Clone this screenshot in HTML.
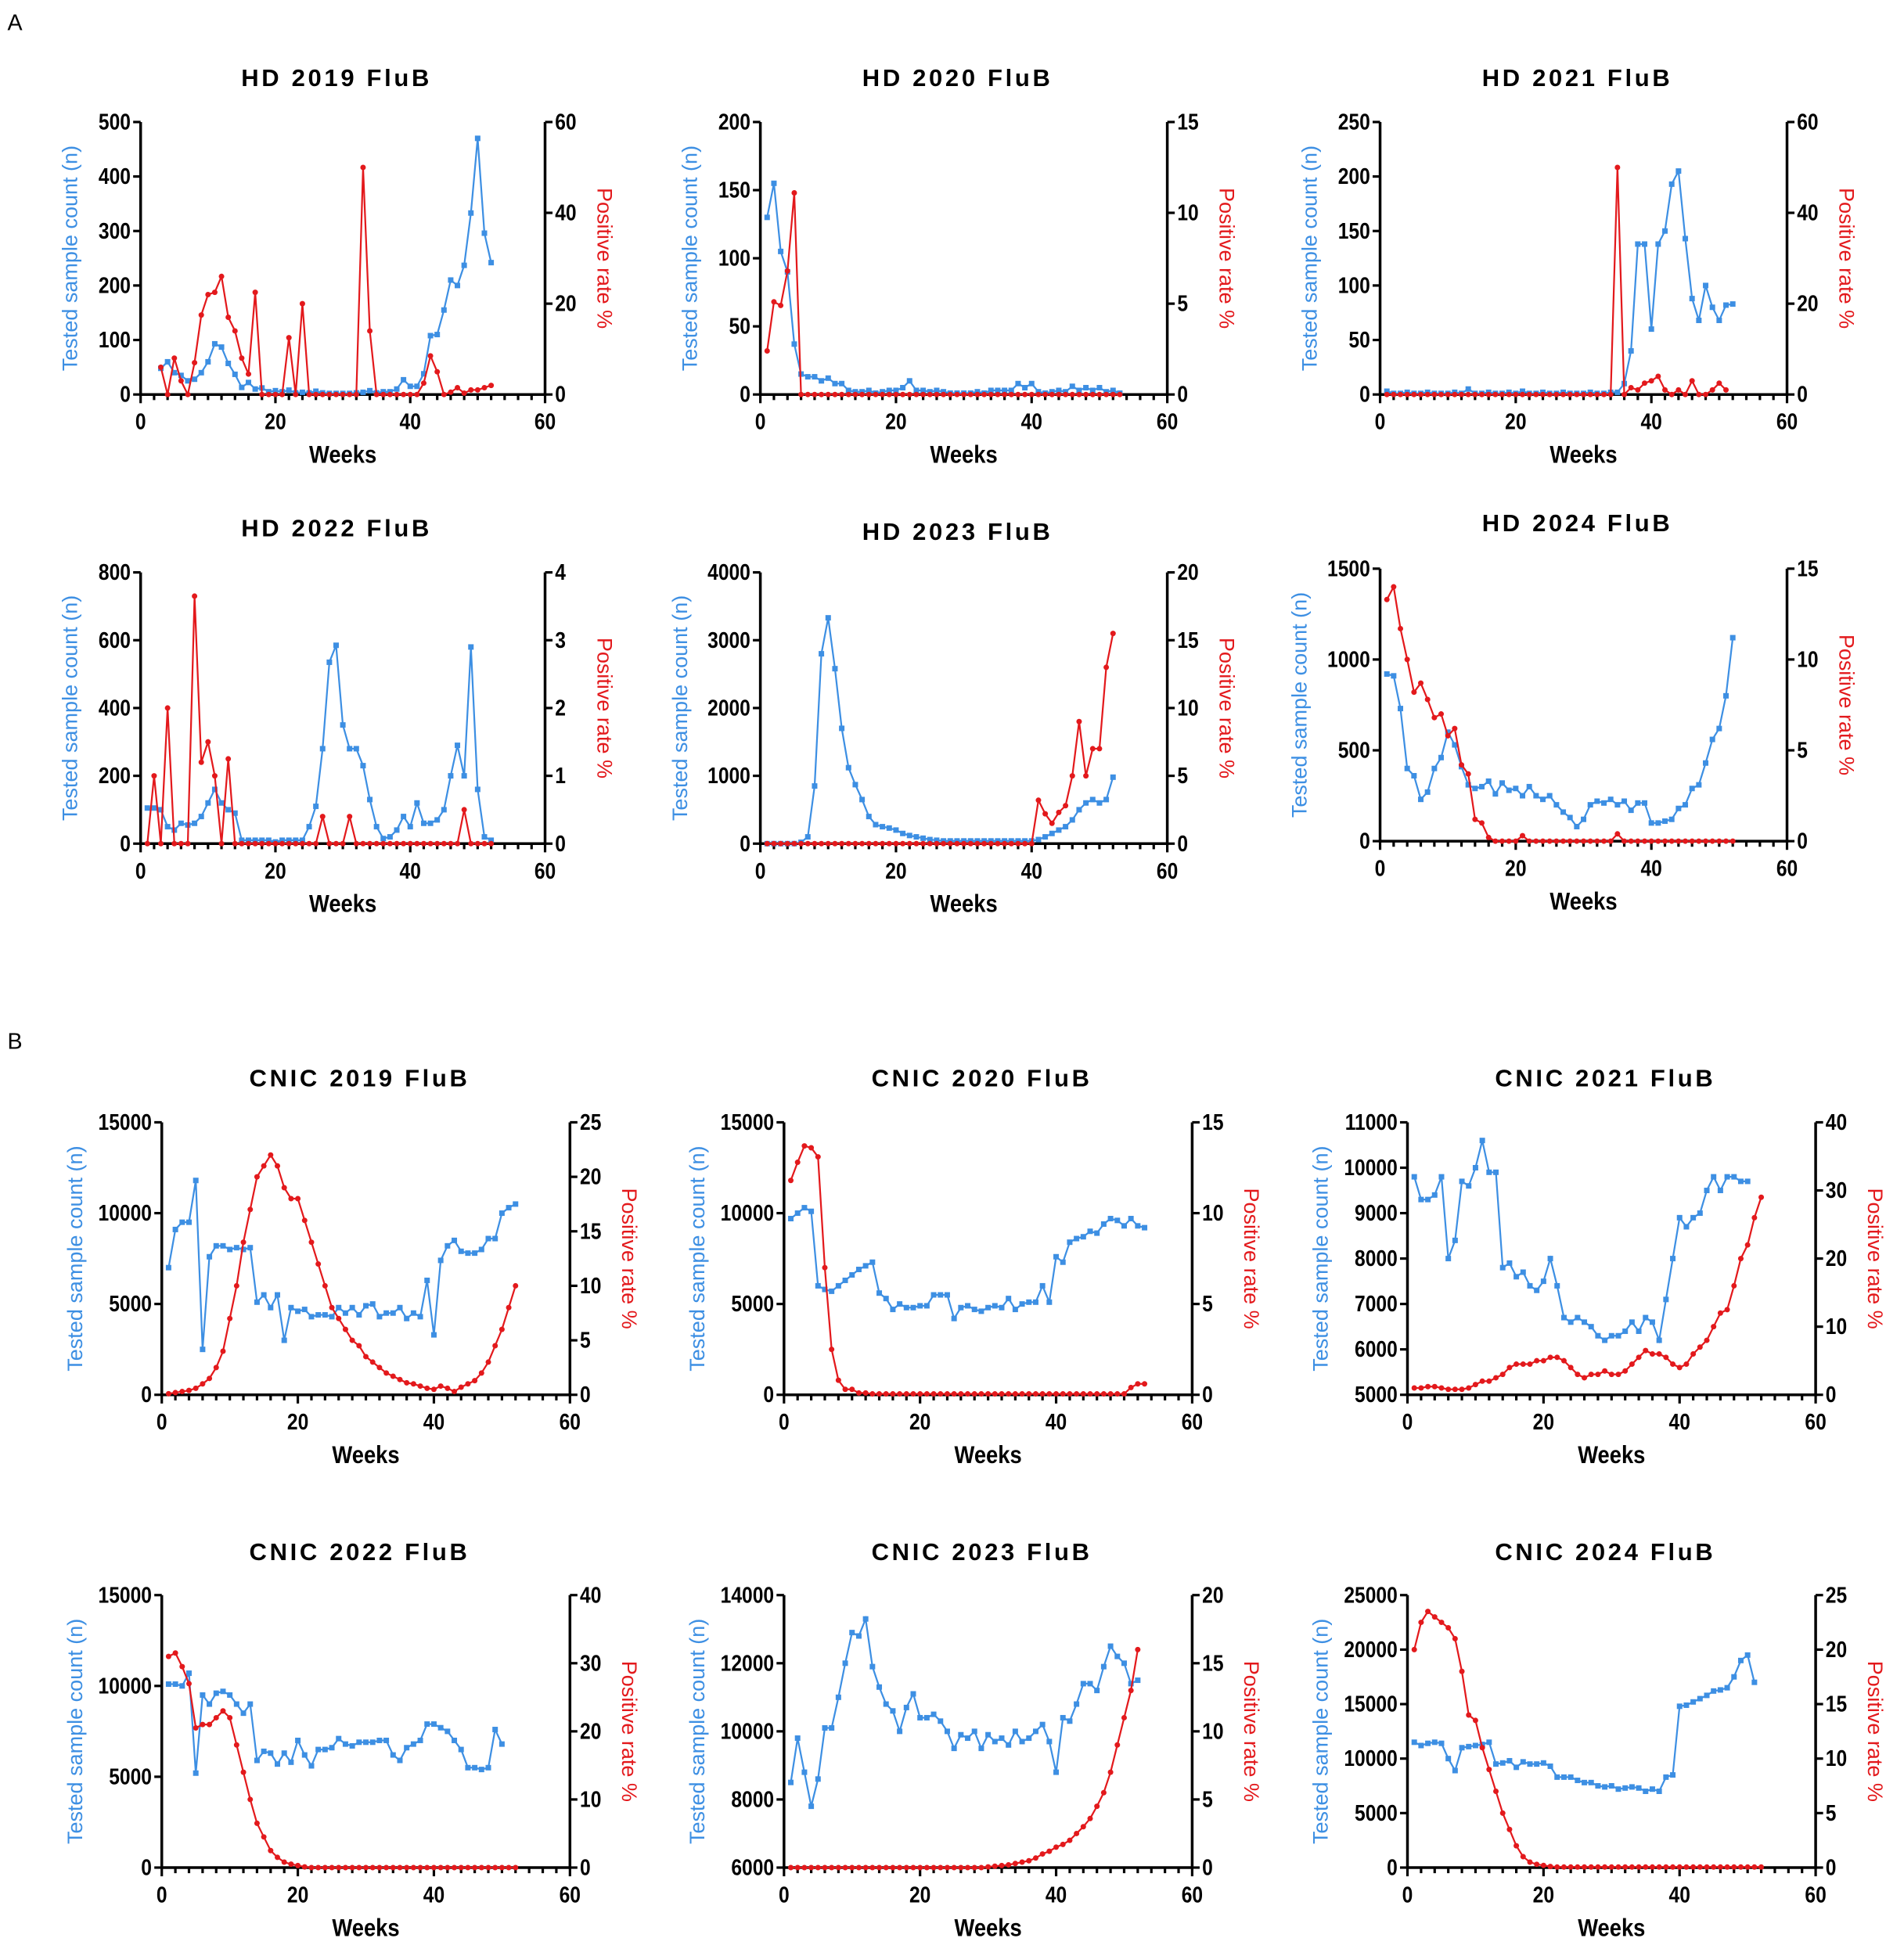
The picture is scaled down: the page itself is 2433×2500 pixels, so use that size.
<!DOCTYPE html>
<html><head><meta charset="utf-8"><style>
html,body{margin:0;padding:0;background:#fff;}
svg{display:block;}
</style></head><body>
<svg id="s" width="2433" height="2500" viewBox="0 0 1530 1572" xmlns="http://www.w3.org/2000/svg">
<rect width="1530" height="1572" fill="#fff"/>
<text x="6" y="24" font-family="Liberation Sans, sans-serif" font-size="18">A</text>
<text x="6" y="843" font-family="Liberation Sans, sans-serif" font-size="18">B</text>
</svg>
<script>
const BLUE="#3d8fe3",RED="#e3191c";
function arr(start,vals){return vals.map((v,i)=>[start+i,v]);}
const P=[
{t:"HD 2019 FluB",x0:113,x1:438,yt:98,yb:317,ty:62,L:[0,500,100],R:[0,60,20],
 b:arr(3,[48,60,40,35,25,28,40,60,93,87,57,37,13,22,10,12,5,7,5,8,3,4,3,6,3,2,2,2,2,3,4,7,3,5,5,10,27,15,15,38,108,110,155,210,200,237,333,470,296,242]),
 r:arr(3,[6,0,8,3,0,7,17.5,22,22.5,26,17,14,8,4.5,22.5,0,0,0,0,12.5,0,20,0,0,0,0,0,0,0,0,50,14,0,0,0,0,0,0,0,2.5,8.5,5,0,0.5,1.5,0.3,1,1,1.5,2])},
{t:"HD 2020 FluB",x0:611,x1:938,yt:98,yb:317,ty:62,L:[0,200,50],R:[0,15,5],
 b:arr(1,[130,155,105,90,37,15,13,13,10,12,8,8,3,2,2,3,1,2,3,3,5,10,3,3,2,3,2,1,1,1,1,2,1,3,3,3,3,8,5,8,2,1,2,3,2,6,3,5,3,5,2,3,1]),
 r:arr(1,[2.4,5.1,4.9,6.8,11.1].concat(Array(48).fill(0)))},
{t:"HD 2021 FluB",x0:1109,x1:1436,yt:98,yb:317,ty:62,L:[0,250,50],R:[0,60,20],
 b:arr(1,[3,1,1,2,1,1,2,1,1,1,2,1,5,1,1,2,1,1,2,1,3,1,1,2,1,1,2,1,1,1,2,1,1,2,2,10,40,138,138,60,138,150,193,205,143,88,68,100,80,68,82,83]),
 r:arr(1,Array(34).fill(0).concat([50,0,1.5,1,2.5,3,4,1,0,1,0,3,0,0,1,2.5,1]))},
{t:"HD 2022 FluB",x0:113,x1:438,yt:460,yb:678,ty:424,L:[0,800,200],R:[0,4,1],
 b:arr(1,[105,105,100,50,40,60,55,60,80,120,160,120,100,90,10,10,10,10,10,5,10,10,10,10,50,110,280,535,585,350,280,280,230,130,50,15,20,40,80,50,120,60,60,70,100,200,290,200,580,160,20,10]),
 r:arr(1,[0,1.0,0,2.0,0,0,0,3.65,1.2,1.5,1.0,0,1.25,0,0,0,0,0,0,0,0,0,0,0,0,0,0.4,0,0,0,0.4,0,0,0,0,0,0,0,0,0,0,0,0,0,0,0,0,0.5,0,0,0,0])},
{t:"HD 2023 FluB",x0:611,x1:938,yt:460,yb:678,ty:427,L:[0,4000,1000],R:[0,20,5],
 b:arr(1,[0,0,0,0,0,20,100,850,2800,3330,2580,1700,1120,870,650,400,280,250,230,200,150,120,100,80,60,50,40,40,40,40,40,40,40,40,40,40,40,40,40,40,60,100,150,200,250,350,500,600,650,600,650,980]),
 r:arr(1,Array(40).fill(0).concat([3.2,2.2,1.5,2.3,2.8,5,9,5,7,7,13,15.5]))},
{t:"HD 2024 FluB",x0:1109,x1:1436,yt:457,yb:676,ty:420,L:[0,1500,500],R:[0,15,5],
 b:arr(1,[920,910,730,400,360,230,270,400,460,600,530,410,310,290,300,330,260,320,280,290,250,300,250,230,250,200,160,130,80,120,200,220,210,230,200,220,170,210,210,100,100,110,120,180,200,290,310,430,560,620,800,1120]),
 r:arr(1,[13.3,14,11.7,10,8.2,8.7,7.8,6.8,7,5.8,6.2,4.2,3.7,1.2,1,0.2,0,0,0,0,0.3,0,0,0,0,0,0,0,0,0,0,0,0,0,0.4,0,0,0,0,0,0,0,0,0,0,0,0,0,0,0,0,0])},
{t:"CNIC 2019 FluB",x0:130,x1:458,yt:902,yb:1121,ty:866,L:[0,15000,5000],R:[0,25,5],
 b:arr(1,[7000,9100,9500,9500,11800,2500,7600,8200,8200,8000,8100,8000,8100,5100,5500,4800,5500,3000,4800,4600,4700,4300,4400,4400,4300,4800,4500,4800,4400,4900,5000,4300,4500,4500,4800,4200,4500,4300,6300,3300,7400,8200,8500,7900,7800,7800,8000,8600,8600,10000,10300,10500]),
 r:arr(1,[0.1,0.2,0.3,0.4,0.6,1,1.5,2.5,4,7,10,14,17,20,21,22,21,19,18,18,16,14,12,10,8,7,6,5,4.5,3.5,3,2.5,2,1.7,1.4,1.1,1,0.8,0.6,0.5,0.8,0.6,0.3,0.7,1,1.3,2,3,4.5,6,8,10])},
{t:"CNIC 2020 FluB",x0:630,x1:958,yt:902,yb:1121,ty:866,L:[0,15000,5000],R:[0,15,5],
 b:arr(1,[9700,10000,10300,10100,6000,5800,5700,6000,6300,6600,6900,7100,7300,5600,5300,4700,5000,4800,4800,4900,4900,5500,5500,5500,4200,4800,4900,4700,4600,4800,4900,4800,5300,4700,5000,5100,5100,6000,5100,7600,7300,8400,8600,8700,9000,8900,9400,9700,9600,9300,9700,9300,9200]),
 r:arr(1,[11.8,12.8,13.7,13.6,13.1,7,2.5,0.8,0.3,0.3,0.1,0.1].concat(Array(38).fill(0.05)).concat([0.4,0.6,0.6]))},
{t:"CNIC 2021 FluB",x0:1131,x1:1459,yt:902,yb:1121,ty:866,L:[5000,11000,1000],R:[0,40,10],
 b:arr(1,[9800,9300,9300,9400,9800,8000,8400,9700,9600,10000,10600,9900,9900,7800,7900,7600,7700,7400,7300,7500,8000,7400,6700,6600,6700,6600,6500,6300,6200,6300,6300,6400,6600,6400,6700,6600,6200,7100,8000,8900,8700,8900,9000,9500,9800,9500,9800,9800,9700,9700]),
 r:arr(1,[1,1,1.2,1.2,1,0.8,0.8,0.8,1,1.5,2,2,2.5,3,4,4.5,4.5,4.5,5,5,5.5,5.5,5,4,3,2.5,3,3,3.5,3,3,3.5,4.5,5.5,6.5,6,6,5.5,4.5,4,4.5,6,7,8,10,12,12.5,16,20,22,26,29])},
{t:"CNIC 2022 FluB",x0:130,x1:458,yt:1282,yb:1501,ty:1247,L:[0,15000,5000],R:[0,40,10],
 b:arr(1,[10100,10100,10000,10700,5200,9500,9000,9600,9700,9500,9000,8500,9000,5900,6400,6300,5700,6300,5800,7000,6200,5600,6500,6500,6600,7100,6800,6700,6900,6900,6900,7000,7000,6200,5900,6600,6800,7000,7900,7900,7700,7500,7000,6500,5500,5500,5400,5500,7600,6800]),
 r:arr(1,[31,31.5,29.5,27,20.5,21,21,22,23,22,18,14,10,6.5,4.5,2.5,1.5,0.8,0.5,0.3,0.1].concat(Array(31).fill(0)))},
{t:"CNIC 2023 FluB",x0:630,x1:958,yt:1282,yb:1501,ty:1247,L:[6000,14000,2000],R:[0,20,5],
 b:arr(1,[8500,9800,8800,7800,8600,10100,10100,11000,12000,12900,12800,13300,11900,11300,10800,10600,10000,10700,11100,10400,10400,10500,10300,10000,9500,9900,9800,10000,9500,9900,9700,9800,9600,10000,9700,9800,10000,10200,9700,8800,10400,10300,10800,11400,11400,11200,11900,12500,12200,12000,11400,11500]),
 r:arr(1,[0,0,0,0,0,0,0,0,0,0,0,0,0,0,0,0,0,0,0,0,0,0,0,0,0,0,0,0,0,0.05,0.1,0.15,0.2,0.3,0.4,0.5,0.7,1,1.2,1.5,1.7,2,2.5,3,3.6,4.5,5.5,7,9,11,13,16])},
{t:"CNIC 2024 FluB",x0:1131,x1:1459,yt:1282,yb:1501,ty:1247,L:[0,25000,5000],R:[0,25,5],
 b:arr(1,[11500,11200,11400,11500,11400,10000,8900,11000,11100,11200,11300,11500,9500,9600,9800,9200,9700,9500,9500,9600,9300,8300,8300,8300,8000,7800,7800,7500,7400,7500,7200,7300,7400,7300,7000,7200,7000,8300,8500,14800,14900,15200,15500,15800,16200,16300,16500,17500,19000,19500,17000]),
 r:arr(1,[20,22.5,23.5,23,22.5,22,21,18,14,13.5,11,9,7,5,3.5,2,1,0.5,0.3,0.2,0.1].concat(Array(31).fill(0.05)))}
];
const NS="http://www.w3.org/2000/svg",S=document.getElementById("s");
function el(n,a,txt){const e=document.createElementNS(NS,n);for(const k in a)e.setAttribute(k,a[k]);if(txt!=null)e.textContent=txt;S.appendChild(e);return e;}
function tick(x,y,anchor,txt,fs){
 // condensed bold label: scale horizontally
 const sx=0.86;
 el("text",{x:x/sx,y:y,"text-anchor":anchor,"font-family":"Liberation Sans,sans-serif","font-weight":"bold","font-size":fs,transform:`scale(${sx},1)`},txt);
}
for(const p of P){
 const X=w=>p.x0+(p.x1-p.x0)*w/60;
 const YL=v=>p.yb-(p.yb-p.yt)*(v-p.L[0])/(p.L[1]-p.L[0]);
 const YR=v=>p.yb-(p.yb-p.yt)*(v-p.R[0])/(p.R[1]-p.R[0]);
 const mid=(p.x0+p.x1)/2;
 el("text",{x:mid-5,y:p.ty+7,"text-anchor":"middle","font-family":"Liberation Sans,sans-serif","font-weight":"bold","font-size":19.5,"letter-spacing":2.3},p.t);
 el("line",{x1:p.x0,y1:p.yt,x2:p.x0,y2:p.yb+1,stroke:"#000","stroke-width":2.2});
 el("line",{x1:p.x1,y1:p.yt,x2:p.x1,y2:p.yb+1,stroke:"#000","stroke-width":2.2});
 el("line",{x1:p.x0-1,y1:p.yb,x2:p.x1+1,y2:p.yb,stroke:"#000","stroke-width":2.2});
 for(let w=0;w<=60;w+=2){const maj=w%20==0;el("line",{x1:X(w),y1:p.yb,x2:X(w),y2:p.yb+(maj?7:4.5),stroke:"#000","stroke-width":2});
  if(maj)tick(X(w),p.yb+28,"middle",w,18);}
 for(let v=p.L[0];v<=p.L[1];v+=p.L[2]){el("line",{x1:p.x0-6,y1:YL(v),x2:p.x0,y2:YL(v),stroke:"#000","stroke-width":2});
  tick(p.x0-8,YL(v)+6,"end",v,18);}
 for(let v=p.R[0];v<=p.R[1];v+=p.R[2]){el("line",{x1:p.x1,y1:YR(v),x2:p.x1+6,y2:YR(v),stroke:"#000","stroke-width":2});
  tick(p.x1+8,YR(v)+6,"start",v,18);}
 tick(mid,p.yb+55,"middle","Weeks",20);
 const cy=(p.yt+p.yb)/2;
 const lx=p.x0-(p.L[1]>=10000?64:(p.L[1]>=1000?59:51));
 el("text",{x:lx,y:cy,"text-anchor":"middle",fill:BLUE,"font-family":"Liberation Sans,sans-serif","font-size":17,transform:`rotate(-90 ${lx} ${cy})`},"Tested sample count (n)");
 const rx=p.x1+42;
 el("text",{x:rx,y:cy,"text-anchor":"middle",fill:RED,"font-family":"Liberation Sans,sans-serif","font-size":17,transform:`rotate(90 ${rx} ${cy})`},"Positive rate %");
 const bp=p.b.map(([w,v])=>[X(w),YL(v)]);
 el("polyline",{points:bp.map(q=>q.join(",")).join(" "),fill:"none",stroke:BLUE,"stroke-width":1.4});
 for(const q of bp)el("rect",{x:q[0]-2.2,y:q[1]-2.2,width:4.4,height:4.4,fill:BLUE});
 const rp=p.r.map(([w,v])=>[X(w),YR(v)]);
 el("polyline",{points:rp.map(q=>q.join(",")).join(" "),fill:"none",stroke:RED,"stroke-width":1.4});
 for(const q of rp)el("circle",{cx:q[0],cy:q[1],r:2.2,fill:RED});
}
</script>
</body></html>
